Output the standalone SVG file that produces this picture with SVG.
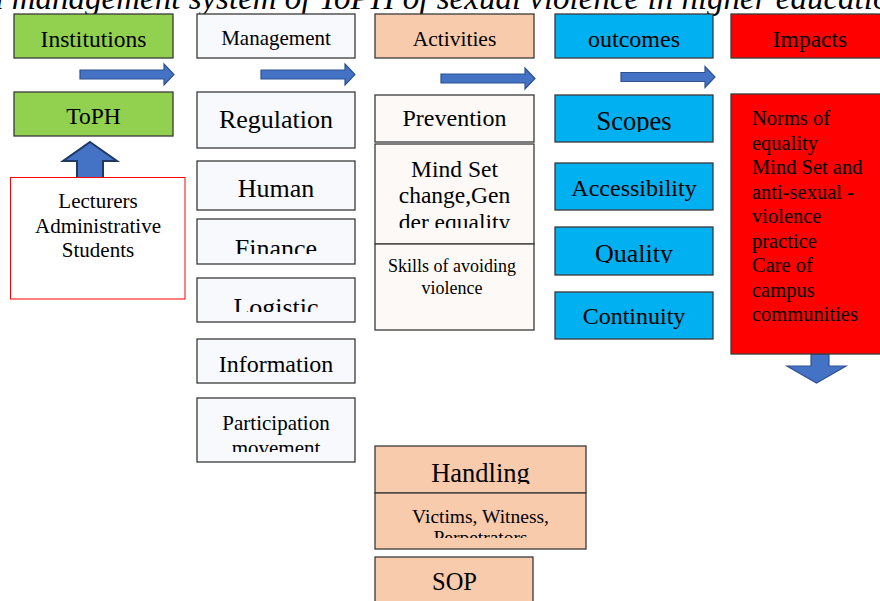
<svg xmlns="http://www.w3.org/2000/svg" width="880" height="601" viewBox="0 0 880 601">
<style>
text{font-family:"Liberation Serif","Times New Roman",serif;fill:#000;}
.c{text-anchor:middle;}
.b{stroke:#3a3a3a;stroke-width:1.3;}
.g{fill:#92D050;}
.w{fill:#F7F9FD;}
.o{fill:#F8CBAD;}
.p{fill:#FDF9F6;}
.u{fill:#00B0F0;}
.r{fill:#FF0000;}
.arr{fill:#4472C4;stroke:#2F528F;stroke-width:1.2;}
</style>
<defs>
<path id="ra" d="M0,-4.5 H84 V-10.5 L94,0 L84,10.5 V4.5 H0 Z"/>
<clipPath id="cFin"><rect x="197" y="219" width="158" height="35"/></clipPath>
<clipPath id="cLog"><rect x="197" y="278" width="158" height="34"/></clipPath>
<clipPath id="cMov"><rect x="197" y="435" width="158" height="17"/></clipPath>
<clipPath id="cDer"><rect x="375" y="205" width="159" height="23"/></clipPath>
<clipPath id="cPer"><rect x="375" y="522" width="211" height="16"/></clipPath>
<clipPath id="cHan"><rect x="375" y="446" width="211" height="38"/></clipPath>
<clipPath id="cSco"><rect x="555" y="95" width="158" height="37"/></clipPath>
<clipPath id="cQua"><rect x="555" y="227" width="158" height="36"/></clipPath>
</defs>

<text id="title" x="-13" y="9" font-size="33" font-style="italic">a management system of ToPH of sexual violence in higher education</text>

<g id="connectors">
<use href="#ra" class="arr" transform="translate(80,74.5)"/>
<use href="#ra" class="arr" transform="translate(261,74.5)"/>
<use href="#ra" class="arr" transform="translate(441,78.5)"/>
<use href="#ra" class="arr" transform="translate(621,77)"/>
<path class="arr" style="stroke:#203864;stroke-width:2" d="M90,142 L117,161 H103 V178 H77 V161 H63 Z"/>
<path class="arr" d="M811,354 H829 V366 H846 L816.5,383 L787,366 H811 Z"/>
</g>

<g id="institutions"><rect class="b g" x="14" y="14" width="159" height="44"/><text class="c" x="93.5" y="47" font-size="23.5">Institutions</text></g>
<g id="toph"><rect class="b g" x="14" y="92" width="159" height="44"/><text class="c" x="93.5" y="124" font-size="23.5">ToPH</text></g>
<g id="people"><rect x="10.5" y="177.5" width="174.5" height="121.5" fill="#fff" stroke="#FF0000" stroke-width="1"/>
<text class="c" x="98" y="208" font-size="21">Lecturers</text>
<text class="c" x="98" y="233" font-size="21">Administrative</text>
<text class="c" x="98" y="257" font-size="21">Students</text></g>

<g id="management"><rect class="b w" x="197" y="14" width="158" height="44"/><text class="c" x="276" y="45" font-size="21">Management</text></g>
<g id="regulation"><rect class="b w" x="197" y="92" width="158" height="56"/><text class="c" x="276" y="128" font-size="26">Regulation</text></g>
<g id="human"><rect class="b w" x="197" y="161" width="158" height="49"/><text class="c" x="276" y="197" font-size="26">Human</text></g>
<g id="finance"><rect class="b w" x="197" y="219" width="158" height="45"/><text class="c" x="276" y="257" font-size="26" clip-path="url(#cFin)">Finance</text></g>
<g id="logistic"><rect class="b w" x="197" y="278" width="158" height="44"/><text class="c" x="276" y="316" font-size="26" clip-path="url(#cLog)">Logistic</text></g>
<g id="information"><rect class="b w" x="197" y="339" width="158" height="44"/><text class="c" x="276" y="372" font-size="24">Information</text></g>
<g id="participation"><rect class="b w" x="197" y="398" width="158" height="64"/><text class="c" x="276" y="430" font-size="21">Participation</text><text class="c" x="276" y="455" font-size="21" clip-path="url(#cMov)">movement</text></g>

<g id="activities"><rect class="b o" x="375" y="14" width="159" height="44"/><text class="c" x="454.5" y="46" font-size="21.5">Activities</text></g>
<g id="prevention"><rect class="b p" x="375" y="95" width="159" height="47"/><text class="c" x="454.5" y="126" font-size="24">Prevention</text></g>
<g id="mindset"><rect class="b p" x="375" y="144" width="159" height="100"/>
<text class="c" x="454.5" y="177" font-size="23.5">Mind Set</text>
<text class="c" x="454.5" y="203" font-size="23.5">change,Gen</text>
<text class="c" x="454.5" y="230" font-size="23.5" clip-path="url(#cDer)">der equality</text></g>
<g id="skills"><rect class="b p" x="375" y="244" width="159" height="86"/>
<text class="c" x="452" y="272" font-size="18">Skills of avoiding</text>
<text class="c" x="452" y="294" font-size="18">violence</text></g>
<g id="handling"><rect class="b o" x="375" y="446" width="211" height="47"/><text class="c" x="480.5" y="482" font-size="26.5" clip-path="url(#cHan)">Handling</text></g>
<g id="victims"><rect class="b o" x="375" y="493" width="211" height="56"/>
<text class="c" x="480.5" y="523" font-size="19.5">Victims, Witness,</text>
<text class="c" x="480.5" y="544" font-size="19.5" clip-path="url(#cPer)">Perpetrators</text></g>
<g id="sop"><rect class="b o" x="375" y="557" width="158" height="50"/><text class="c" x="454.5" y="590" font-size="24.5">SOP</text></g>

<g id="outcomes"><rect class="b u" x="555" y="14" width="158" height="44"/><text class="c" x="634" y="47" font-size="24">outcomes</text></g>
<g id="scopes"><rect class="b u" x="555" y="95" width="158" height="47"/><text class="c" x="634" y="130" font-size="26.5" clip-path="url(#cSco)">Scopes</text></g>
<g id="accessibility"><rect class="b u" x="555" y="163" width="158" height="47"/><text class="c" x="634" y="196" font-size="24">Accessibility</text></g>
<g id="quality"><rect class="b u" x="555" y="227" width="158" height="48"/><text class="c" x="634" y="262" font-size="26" clip-path="url(#cQua)">Quality</text></g>
<g id="continuity"><rect class="b u" x="555" y="292" width="158" height="47"/><text class="c" x="634" y="324" font-size="24">Continuity</text></g>

<g id="impacts"><rect class="b r" x="731" y="14" width="152" height="44"/><text class="c" x="810" y="47" font-size="23.5">Impacts</text></g>
<g id="impactlist"><rect class="b r" x="731" y="94" width="152" height="260"/>
<g font-size="20.5">
<text x="752" y="125">Norms of</text>
<text x="752" y="150">equality</text>
<text x="752" y="174">Mind Set and</text>
<text x="752" y="199">anti-sexual -</text>
<text x="752" y="223">violence</text>
<text x="752" y="248">practice</text>
<text x="752" y="272">Care of</text>
<text x="752" y="297">campus</text>
<text x="752" y="321">communities</text>
</g></g>
</svg>
